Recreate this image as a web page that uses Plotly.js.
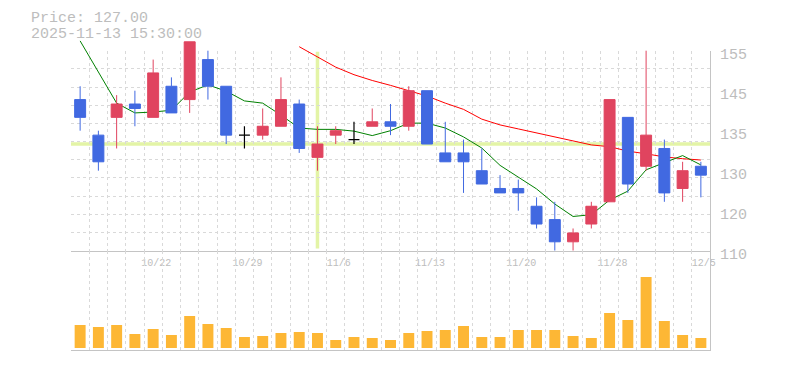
<!DOCTYPE html>
<html><head><meta charset="utf-8">
<script src="https://cdn.plot.ly/plotly-3.0.1.min.js"></script>
<style>html,body{margin:0;padding:0;background:#fff;}#chart{width:785px;height:370px;}</style>
</head><body><div id="chart"></div>
<script>
// ---- data ----
const dates = ['10/16','10/17','10/20','10/21','10/22','10/23','10/24','10/27','10/28','10/29','10/30','10/31','11/4','11/5','11/6','11/7','11/10','11/11','11/12','11/13','11/14','11/17','11/18','11/19','11/20','11/21','11/25','11/26','11/27','11/28','12/1','12/2','12/3','12/4','12/5'];
const opens  = [144,136,140,143,140,147,144,153,147,136,136,138,143,131,136,135,138,139,138,146,132,132,128,124,124,120,117,112,116,121,140,129,133,124,129];
const highs  = [147,137,145,146,153,149,157,155,147,138,142,149,144,138,138,139,142,143,147,146,139,135,133,127,126,122,121,115,121,144,140,155,135,130,130];
const lows   = [137,128,133,138,140,141,141,144,134,133,135,138,132,128,134,134,138,136,137,134,130,123,125,123,119,115,110,110,115,121,123,128,121,121,122];
const closes = [140,130,143,142,150,141,157,147,136,136,138,144,133,134,137,135,139,138,146,134,130,130,125,123,123,116,112,114,120,144,125,136,123,128,127];
const volumes = [23,21,23,14,19,13,32,24,20,11,12,15,16,15,8,11,10,8,15,17,18,22,11,11,18,18,18,12,10,35,28,71,27,13,10];
const ma5  = [157.2,150.3,143.2,141.0,141.2,141.6,145.7,147.3,145.9,143.7,143.2,140.5,137.6,137.3,137.3,136.9,135.9,137.0,138.7,138.7,137.6,135.6,133.1,129.2,126.6,123.9,120.5,117.7,118.1,121.4,123.4,128.2,129.8,131.4,129.3];
const ma25 = [null,null,null,null,null,null,null,null,null,null,null,null,155.9,153.6,151.3,149.6,148.3,147.2,146.0,144.8,143.2,141.8,139.6,138.3,137.4,136.5,135.6,134.6,133.8,133.4,132.4,131.8,131.1,130.7,130.4];
const xTickLabels = ['10/22','10/29','11/6','11/13','11/20','11/28','12/5'];
const yTickLabels = ['155','145','135','130','120','110'];
const headerPrice = 'Price: 127.00';
const headerTime = '2025-11-13 15:30:00';
const crosshairIndex = 13;

// ---- geometry / style ----
const W = 785, H = 370, mL = 71, mR = 75, mT = 0, mB = 20;
const plotH = H - mT - mB;
const yTopPx = 50.7, yBotPx = 250.7, yExtPx = 25;
const pMin = 110, pMax = 155;
const pxPerUnit = (yBotPx - yTopPx) / (pMax - pMin);
const extMax = pMax + (yTopPx - yExtPx) / pxPerUnit;
const dPriceBot = 1 - yBotPx / plotH, dPriceTop = 1 - yTopPx / plotH, dExtTop = 1 - yExtPx / plotH;
const xi = dates.map((d, i) => i);
const xRange = [-0.5, dates.length - 0.5];
const tickPos = xTickLabels.map(l => dates.indexOf(l));
const yTickPos = yTickLabels.map((l, i) => pMax - i * (pMax - pMin) / (yTickLabels.length - 1));
const gridX = []; for (let k = 0; k <= dates.length; k++) gridX.push(k - 0.5 + (k === 0 ? 0.01 : 0));
const gridY = []; for (let k = 1; k <= 11; k++) gridY.push(pMin + k * (pMax - pMin) / 11 - (k === 11 ? 0.01 : 0));

const RED = '#e0445f', BLUE = '#4169e1', GRID = '#d9d9d9', AX = '#c4c4c4', TXT = '#bdbdbd';
const FONT = 'Liberation Mono, Courier New, monospace';

const doji = xi.filter(i => opens[i] === closes[i]);
const norm = xi.filter(i => opens[i] !== closes[i]);
const pick = (arr, idx) => idx.map(i => arr[i]);

const traces = [
  {type:'bar', x:xi, y:volumes, xaxis:'x2', yaxis:'y2', width:0.6, marker:{color:'#fdb735', line:{width:0}}, hoverinfo:'skip'},
  {type:'scatter', mode:'lines', x:xi, y:ma25, xaxis:'x3', yaxis:'y3', line:{color:'#ff0000', width:1}, hoverinfo:'skip'},
  {type:'scatter', mode:'lines', x:xi, y:ma5, xaxis:'x3', yaxis:'y3', line:{color:'#008000', width:1}, hoverinfo:'skip'},
  {type:'candlestick', x:pick(xi,norm), open:pick(opens,norm), high:pick(highs,norm), low:pick(lows,norm), close:pick(closes,norm),
   xaxis:'x4', yaxis:'y4', whiskerwidth:0,
   increasing:{line:{color:RED, width:1}, fillcolor:RED}, decreasing:{line:{color:BLUE, width:1}, fillcolor:BLUE}, hoverinfo:'skip'},
  {type:'candlestick', x:pick(xi,doji), open:pick(opens,doji), high:pick(highs,doji), low:pick(lows,doji), close:pick(closes,doji),
   xaxis:'x4', yaxis:'y4', whiskerwidth:0,
   increasing:{line:{color:'#000', width:1.2}, fillcolor:'#000'}, decreasing:{line:{color:'#000', width:1.2}, fillcolor:'#000'}, hoverinfo:'skip'}
];

const minorX = {tickmode:'array', tickvals:gridX, showgrid:true, gridcolor:GRID, griddash:'3px,3px', gridwidth:1, ticks:''};

const layout = {
  width:W, height:H, margin:{l:mL, r:mR, t:mT, b:mB},
  paper_bgcolor:'#fff', plot_bgcolor:'rgba(0,0,0,0)', showlegend:false,
  boxgap:0.4, boxgroupgap:0, hovermode:false,
  font:{family:FONT, color:TXT},
  xaxis:{domain:[0,1], anchor:'y', range:xRange, showgrid:false, zeroline:false, showline:true, linecolor:AX, linewidth:1,
    tickmode:'array', tickvals:tickPos, ticktext:xTickLabels, ticks:'', tickfont:{size:10, color:TXT, family:FONT},
    ticklabelshift:3, ticklabelstandoff:2, minor:minorX, fixedrange:true},
  yaxis:{domain:[dPriceBot, dPriceTop], anchor:'x', side:'right', range:[pMin, pMax], showgrid:false, zeroline:false,
    showline:true, linecolor:AX, linewidth:1, tickmode:'array', tickvals:yTickPos, ticktext:yTickLabels, ticks:'',
    tickfont:{size:15, color:TXT, family:FONT}, ticklabelshift:3, ticklabelstandoff:6,
    minor:{tickmode:'array', tickvals:gridY, showgrid:true, gridcolor:GRID, griddash:'3px,3px', gridwidth:1, ticks:''}, fixedrange:true},
  xaxis2:{domain:[0,1], anchor:'y2', range:xRange, showgrid:false, zeroline:false, showline:true, linecolor:AX, linewidth:1,
    showticklabels:false, ticks:'', minor:minorX, fixedrange:true},
  yaxis2:{domain:[0, dPriceBot], anchor:'x2', side:'right', range:[-2, 97.3], showgrid:false, zeroline:false, showline:true,
    linecolor:AX, linewidth:1, showticklabels:false, ticks:'', fixedrange:true},
  xaxis3:{domain:[0,1], anchor:'y3', range:xRange, showgrid:false, zeroline:false, showline:false, showticklabels:false, ticks:'', fixedrange:true},
  yaxis3:{domain:[dPriceBot, dExtTop], anchor:'x3', range:[pMin, extMax], showgrid:false, zeroline:false, showline:false, showticklabels:false, ticks:'', fixedrange:true},
  xaxis4:{domain:[0,1], anchor:'y4', range:xRange, showgrid:false, zeroline:false, showline:false, showticklabels:false, ticks:'', fixedrange:true, rangeslider:{visible:false}},
  yaxis4:{domain:[dPriceBot, dExtTop], anchor:'x4', range:[pMin, extMax], showgrid:false, zeroline:false, showline:false, showticklabels:false, ticks:'', fixedrange:true},
  shapes:[
    {type:'line', xref:'x', yref:'y', x0:xRange[0], x1:xRange[1], y0:closes[crosshairIndex], y1:closes[crosshairIndex],
     line:{color:'#e3f4a6', width:3.5}, layer:'below'},
    {type:'line', xref:'x', yref:'y', x0:crosshairIndex, x1:crosshairIndex, y0:pMax - 0.22, y1:pMin + 0.5,
     line:{color:'#e3f4a6', width:3.5}, layer:'below'}
  ],
  annotations:[
    {xref:'paper', yref:'paper', x:(29.3 - mL) / (W - mL - mR), y:1 - 19 / plotH, xanchor:'left', yanchor:'middle',
     text:headerPrice, showarrow:false, font:{family:FONT, size:15, color:TXT}},
    {xref:'paper', yref:'paper', x:(29.3 - mL) / (W - mL - mR), y:1 - 34.5 / plotH, xanchor:'left', yanchor:'middle',
     text:headerTime, showarrow:false, font:{family:FONT, size:15, color:TXT}}
  ]
};

Plotly.newPlot('chart', traces, layout, {staticPlot:true, displayModeBar:false});
</script>
</body></html>
